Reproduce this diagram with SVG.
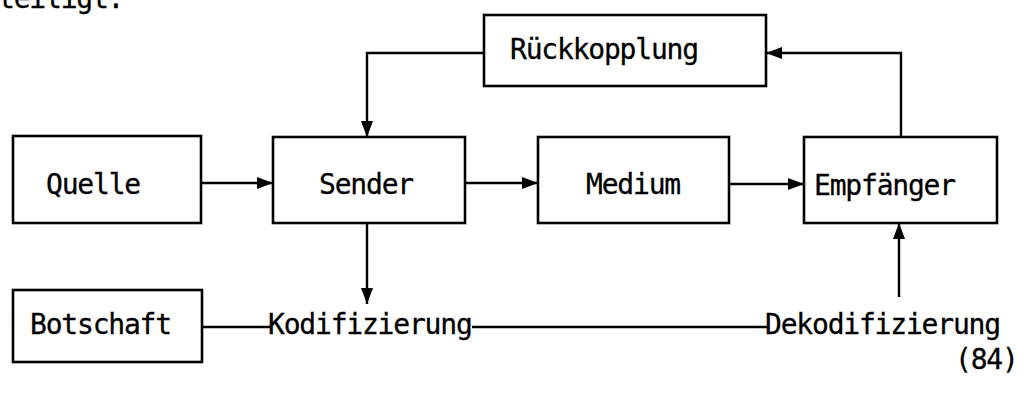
<svg xmlns="http://www.w3.org/2000/svg" width="1025" height="396" viewBox="0 0 1025 396">
  <style>
    .box { fill: #fff; stroke: #000; stroke-width: 2.6; }
    .lbl { font-family: "DejaVu Sans Mono", "Liberation Mono", monospace; font-size: 28px; letter-spacing: -1.2px; fill: #000; stroke: #000; stroke-width: 0.3; }
    .wire { fill: none; stroke: #000; stroke-width: 2.4; }
  </style>
  <defs>
    <marker id="arr" viewBox="0 0 16 12" refX="16" refY="6" markerWidth="16" markerHeight="12" markerUnits="userSpaceOnUse" orient="auto">
      <path d="M0,0 L16,6 L0,12 Z" fill="#000"/>
    </marker>
  </defs>
  <rect width="1025" height="396" fill="#fff"/>

  <!-- tail of the preceding paragraph -->
  <text class="lbl" x="-2" y="8">teiligt.</text>

  <g id="rueckkopplung">
    <rect class="box" x="484" y="15" width="282" height="71"/>
    <text class="lbl" x="510" y="59">Rückkopplung</text>
  </g>
  <g id="quelle">
    <rect class="box" x="13" y="136" width="188" height="87"/>
    <text class="lbl" x="46" y="194">Quelle</text>
  </g>
  <g id="sender">
    <rect class="box" x="273" y="137" width="192" height="86"/>
    <text class="lbl" x="319" y="194">Sender</text>
  </g>
  <g id="medium">
    <rect class="box" x="538" y="137" width="191" height="86"/>
    <text class="lbl" x="586" y="194">Medium</text>
  </g>
  <g id="empfaenger">
    <rect class="box" x="804" y="137" width="193" height="86"/>
    <text class="lbl" x="814" y="195">Empfänger</text>
  </g>
  <g id="botschaft">
    <rect class="box" x="13" y="290" width="189" height="72"/>
    <text class="lbl" x="30" y="334">Botschaft</text>
  </g>
  <g id="kodifizierung">
    <text class="lbl" x="268" y="334">Kodifizierung</text>
  </g>
  <g id="dekodifizierung">
    <text class="lbl" x="765" y="334">Dekodifizierung</text>
  </g>
  <g id="nummer">
    <text class="lbl" x="955" y="369">(84)</text>
  </g>

  <g id="connectors">
    <line class="wire" x1="201" y1="183" x2="273" y2="183" marker-end="url(#arr)"/>
    <line class="wire" x1="465" y1="183" x2="538" y2="183" marker-end="url(#arr)"/>
    <line class="wire" x1="729" y1="184" x2="804" y2="184" marker-end="url(#arr)"/>
    <polyline class="wire" points="901,137 901,53 766,53" marker-end="url(#arr)"/>
    <polyline class="wire" points="484,53 367,53 367,137" marker-end="url(#arr)"/>
    <line class="wire" x1="367" y1="223" x2="367" y2="304" marker-end="url(#arr)"/>
    <line class="wire" x1="899" y1="297" x2="899" y2="223" marker-end="url(#arr)"/>
    <line class="wire" x1="202" y1="327" x2="270" y2="327"/>
    <line class="wire" x1="472" y1="327" x2="768" y2="327"/>
  </g>
</svg>
